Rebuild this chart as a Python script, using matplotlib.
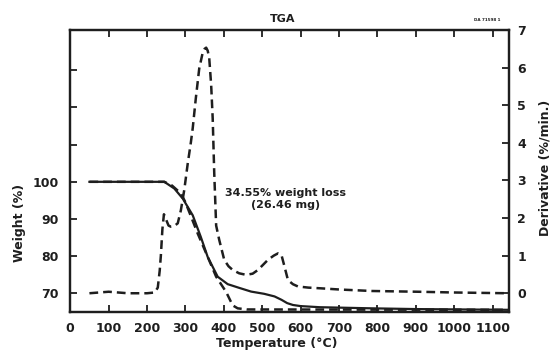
import matplotlib
matplotlib.use("Agg")
import matplotlib.pyplot as plt

# weight curve (solid, left axis)
w_temp = [50, 100, 200, 245, 271, 293, 319, 340, 358, 384, 410, 440, 471, 505, 532, 550, 565, 580, 600, 650, 785, 900, 1140]
w_pct = [100, 100, 100, 100, 98.2, 95.5, 91.0, 85.2, 79.8, 74.5, 72.5, 71.5, 70.5, 69.9, 69.2, 68.3, 67.4, 66.9, 66.6, 66.3, 66.0, 65.8, 65.6]

# second weight curve (dashed, left axis)
w2_temp = [50, 200, 245, 265, 288, 300, 332, 354, 380, 406, 423, 436, 460, 1140]
w2_pct = [100, 100, 100, 99.0, 96.9, 94.5, 86.1, 80.8, 74.5, 70.4, 66.8, 66.0, 65.7, 65.6]

# derivative curve (dashed, right axis)
d_temp = [50, 100, 150, 200, 220, 228, 233, 236, 240, 244, 250, 256, 262, 270, 280, 288, 297, 306,
          314, 319, 327, 336, 345, 350, 354, 358, 362, 367, 371, 375, 380, 388, 401, 412, 423, 440,
          458, 475, 489, 515, 530, 541, 550, 558, 567, 580, 593, 620, 654, 700, 785, 906, 1000, 1140]
d_val = [0, 0.04, 0.0, 0.0, 0.02, 0.15, 0.6, 1.0, 1.7, 2.1, 1.95, 1.8, 1.77, 1.78, 1.86, 2.2, 2.75, 3.45,
         4.0, 4.39, 5.18, 5.98, 6.4, 6.5, 6.53, 6.45, 6.25, 5.54, 4.65, 3.2, 1.8, 1.42, 0.89, 0.72, 0.62, 0.53,
         0.49, 0.52, 0.62, 0.89, 1.0, 1.06, 1.02, 0.71, 0.35, 0.24, 0.18, 0.15, 0.13, 0.1, 0.06, 0.04, 0.02, 0.0]

x_ticks = list(range(0, 1200, 100))
left_ticks = [70, 80, 90, 100, 110, 120, 130]
left_labels = ["70", "80", "90", "100", "", "", ""]
right_ticks = [0, 1, 2, 3, 4, 5, 6, 7]

ink = "#1e1e1e"
plt.rcParams["font.family"] = ["DejaVu Sans"]
plt.rcParams["font.weight"] = "bold"

fig = plt.figure(figsize=(5.53, 3.53), dpi=100)
ax = fig.add_axes([0.127, 0.116, 0.793, 0.799])
ax2 = ax.twinx()

ax.plot(w_temp, w_pct, color=ink, lw=1.6)
ax.plot(w2_temp, w2_pct, color=ink, lw=1.8, dashes=(3.5, 2))
ax2.plot(d_temp, d_val, color=ink, lw=1.8, dashes=(3.5, 2))

ax.set_xlim(0, 1142)
ax.set_ylim(65, 140.8)
ax2.set_ylim(-0.5, 7.0)

ax.set_xticks(x_ticks)
ax.set_yticks(left_ticks)
ax.set_yticklabels(left_labels)
ax2.set_yticks(right_ticks)

ax.tick_params(axis="x", direction="in", length=5, width=1.3, pad=7, labelsize=9,
               colors=ink, top=True)
ax.tick_params(axis="y", direction="in", length=5, width=1.3, pad=8, labelsize=9, colors=ink)
ax2.tick_params(axis="y", direction="in", length=5, width=1.3, pad=6, labelsize=9, colors=ink)
for a in (ax, ax2):
    for s in a.spines.values():
        s.set_linewidth(1.6)
        s.set_color(ink)

fig.text(283 / 553, 1 - 19 / 353, "TGA", ha="center", va="center", fontsize=8, color=ink)
fig.text(487 / 553, 1 - 20 / 353, "DA 71598 1", ha="center", va="center", fontsize=3, color=ink)
fig.text(20 / 553, 1 - 223 / 353, "Weight (%)", rotation=90, ha="center", va="center",
         fontsize=9, color=ink)
fig.text(545 / 553, 1 - 168 / 353, "Derivative (%/min.)", rotation=90, ha="center", va="center",
         fontsize=9, color=ink)
fig.text(277 / 553, 1 - 343 / 353, "Temperature (°C)", ha="center", va="center",
         fontsize=9, color=ink)
ax.text(0.4917, 0.4017, "34.55% weight loss\n(26.46 mg)", transform=ax.transAxes,
        ha="center", va="center", fontsize=8, color=ink, linespacing=1.3)

fig.savefig("out.png", dpi=100)
